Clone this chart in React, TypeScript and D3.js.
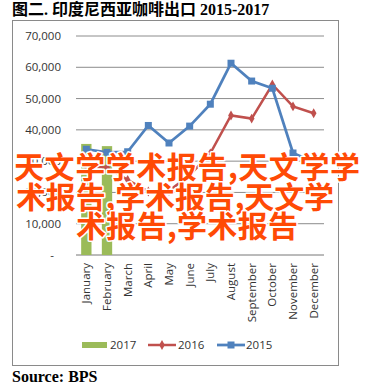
import React from "react";
import * as d3 from "d3";

const months = [
  "January", "February", "March", "April", "May", "June",
  "July", "August", "September", "October", "November", "December",
];
const exports2017 = [35500, 34800];
const exports2016 = [28300, 28000, 24000, 20300, 20500, 25500, 32500, 44600, 43600, 54500, 47500, 45300];
const exports2015 = [33800, 32800, 33000, 41400, 35800, 41200, 48200, 61300, 55600, 53300, 32600, 29700];
const yTicks = [0, 10000, 20000, 30000, 40000, 50000, 60000, 70000];
const watermark = ["天文学学术报告,天文学学", "术报告,学术报告,天文学", "术报告,学术报告"];

const W = 389;
const H = 388;
const margin = { top: 36, right: 65, bottom: 133, left: 76 };

const App = () => {
  const x = d3
    .scaleBand<string>()
    .domain(months)
    .range([margin.left, W - margin.right]);
  const y = d3
    .scaleLinear()
    .domain([0, 70000])
    .range([H - margin.bottom, margin.top]);
  const fmt = d3.format(",");
  const cx = (m: string) => (x(m) ?? 0) + x.bandwidth() / 2;

  const line = d3
    .line<number>()
    .x((_, i) => cx(months[i]))
    .y((d) => y(d));

  const axisFont = "'Open Sans', 'DejaVu Sans', sans-serif";
  const serif = "'Liberation Serif', 'Times New Roman', 'Noto Sans CJK SC', serif";
  const barW = x.bandwidth() * 0.5;

  return (
    <svg width={W} height={H} style={{ position: "absolute", left: 0, top: 0, background: "#fff" }}>
      {/* title */}
      <text x={12} y={15} fontFamily={serif} fontWeight="bold" fontSize={16} fill="#000">
        图二. 印度尼西亚咖啡出口 2015-2017
      </text>

      {/* chart frame */}
      <rect x={12.5} y={20.5} width={326} height={345} fill="#fff" stroke="#8a8a8a" />

      {/* gridlines + y labels */}
      {yTicks.map((t) => (
        <g key={t}>
          <line
            x1={margin.left}
            x2={W - margin.right}
            y1={y(t)}
            y2={y(t)}
            stroke={t === 0 ? "#777" : "#8c8c8c"}
            strokeWidth={1}
          />
          <text
            x={t === 0 ? 54 : 61}
            y={y(t)}
            dy="0.35em"
            textAnchor="end"
            fontFamily={axisFont}
            fontSize={11.5}
            fill="#333"
          >
            {t === 0 ? "-" : fmt(t)}
          </text>
        </g>
      ))}

      {/* 2017 bars */}
      {exports2017.map((v, i) => (
        <rect
          key={months[i]}
          x={cx(months[i]) - barW / 2}
          y={y(v)}
          width={barW}
          height={y(0) - y(v)}
          fill="#9BBB59"
        />
      ))}

      {/* 2016 line */}
      <path d={line(exports2016) ?? ""} fill="none" stroke="#C0504D" strokeWidth={2.5} />
      {exports2016.map((v, i) => (
        <path
          key={i}
          d={d3.symbol(d3.symbolDiamond, 28)() ?? ""}
          transform={`translate(${cx(months[i])},${y(v)})`}
          fill="#C0504D"
        />
      ))}

      {/* 2015 line */}
      <path d={line(exports2015) ?? ""} fill="none" stroke="#4F81BD" strokeWidth={2.75} />
      {exports2015.map((v, i) => (
        <rect
          key={i}
          x={cx(months[i]) - 3.5}
          y={y(v) - 3.5}
          width={7}
          height={7}
          fill="#4F81BD"
        />
      ))}

      {/* month labels */}
      {months.map((m) => (
        <text
          key={m}
          transform={`translate(${cx(m) + 4},${y(0) + 8}) rotate(-90)`}
          textAnchor="end"
          fontFamily={axisFont}
          fontSize={11.5}
          fill="#333"
        >
          {m}
        </text>
      ))}

      {/* legend */}
      <g fontFamily={axisFont} fontSize={11.5} fill="#333">
        <rect x={82} y={342} width={25} height={6} fill="#9BBB59" />
        <text x={110} y={345} dy="0.35em">2017</text>
        <line x1={148} x2={176} y1={345} y2={345} stroke="#C0504D" strokeWidth={2.5} />
        <path d={d3.symbol(d3.symbolDiamond, 28)() ?? ""} transform="translate(162,345)" fill="#C0504D" />
        <text x={178} y={345} dy="0.35em">2016</text>
        <line x1={217} x2={245} y1={345} y2={345} stroke="#4F81BD" strokeWidth={2.75} />
        <rect x={227.5} y={341.5} width={7} height={7} fill="#4F81BD" />
        <text x={246} y={345} dy="0.35em">2015</text>
      </g>

      {/* source */}
      <text x={12} y={382} fontFamily={serif} fontWeight="bold" fontSize={16} fill="#000">
        Source: BPS
      </text>

      {/* watermark */}
      <g
        fontFamily="'Noto Sans CJK SC', sans-serif"
        fontWeight="bold"
        fontSize={30}
        fill="#FF4A05"
        stroke="#fff"
        strokeWidth={3}
        strokeLinejoin="round"
        style={{ paintOrder: "stroke" }}
      >
        <text x={14} y={178} textLength={346} lengthAdjust="spacing">{watermark[0]}</text>
        <text x={16} y={208} textLength={318} lengthAdjust="spacing">{watermark[1]}</text>
        <text x={76} y={237} textLength={222} lengthAdjust="spacing">{watermark[2]}</text>
      </g>
    </svg>
  );
};

export default App;
